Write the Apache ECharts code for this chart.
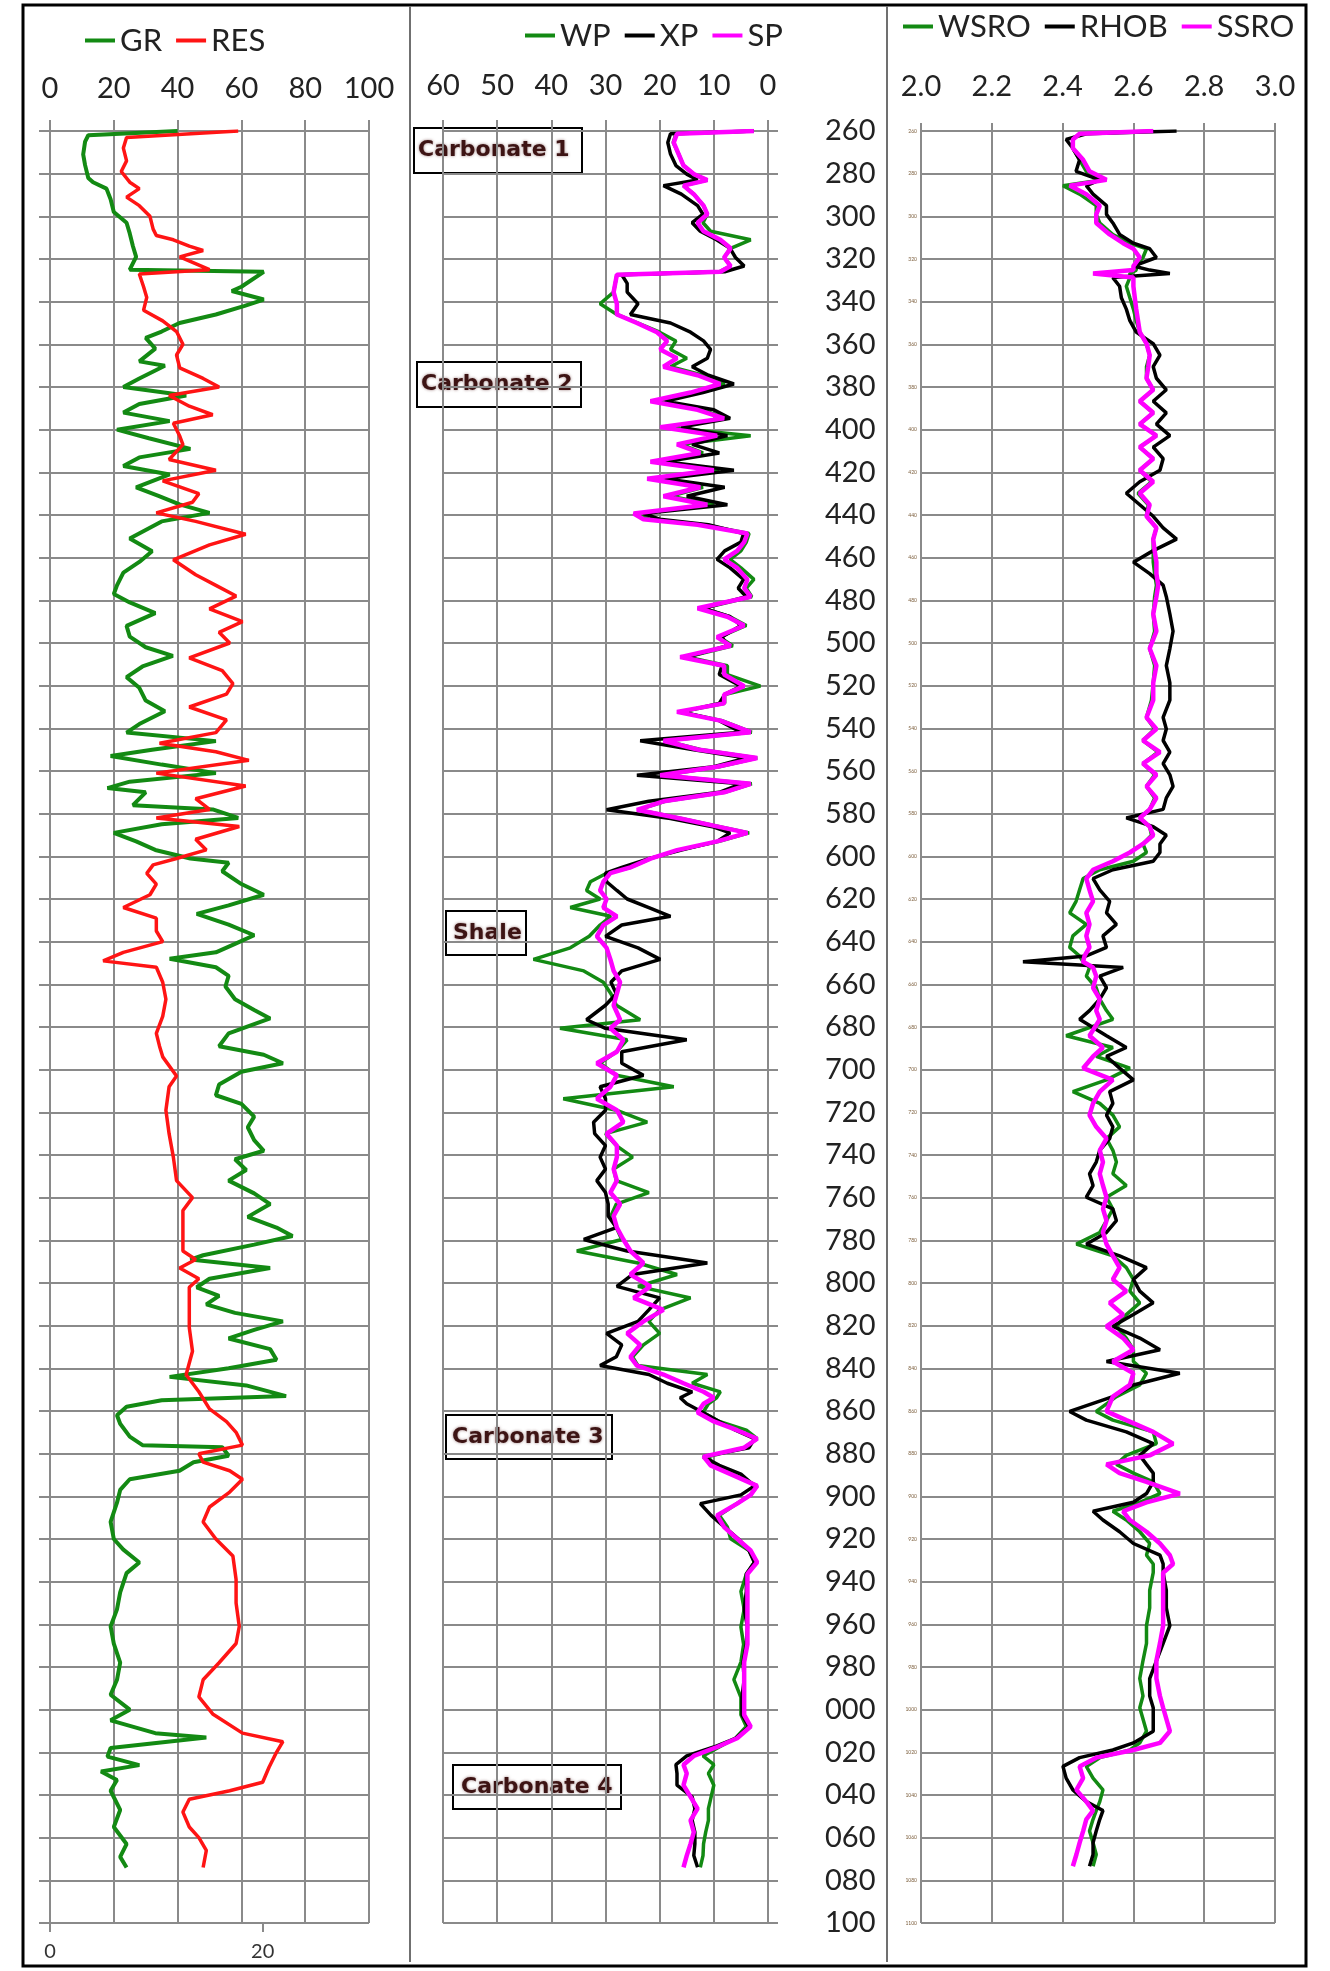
<!DOCTYPE html>
<html>
<head>
<meta charset="utf-8">
<script src="https://cdn.jsdelivr.net/npm/echarts@6/dist/echarts.min.js"></script>
<style>
html,body{margin:0;padding:0;background:#fff;}
#chart{width:1330px;height:1971px;}
</style>
</head>
<body>
<div id="chart"></div>
<script>
// ---------------- Panel 1 : GR (top axis, API) and RES (bottom axis) ----------------
const grDepth = [260,262,265,271,276,282,284,287,292,298, 303,308,314,319,325,326,333,335,339,342,
 346,350,354,357,362,368,370,376,380,384, 388,392,396,400,404,409,413,417,421,427,
 431,435,439,443,447,451,457,462,467,473, 477,481,486,492,497,502,506,511,516,521,
 527,532,538,542,546,550,553,557,561,565, 568,570,576,578,582,585,589,593,597,601,
 603,607,613,618,623,627,632,637,641,645, 648,652,656,661,667,672,676,
 683,689,693,697,701,707,712,716,722,727, 733,738,742,747,752,758,763,769,774,778,
 782,787,789,793,798,802,806,810,814,818, 822,826,831,836,840,844,848,853,855,858,
 862,866,872,876,877,881,884,888,892,897, 903,912,920,925,931,936,945,953,961,969,
 978,986,993,1000,1005,1011,1013,1018,1022,1026, 1029,1033,1038,1047,1055,1063,1069,1074];
const grValue = [40,12,11,10.4,11,12,13.5,17.7,19,20, 24,25,26,27,25,67,60,57,67,61,
 52,40.6,35,30,33,28,36,28,23,42.7, 28,23,37.5,21,31,44,28,23,37.5,27,
 34,40.6,50,35,30,25,32,28,23,21, 20,25,33,24,25,30,38.5,29,24,28,
 30,36,28,24,52,32,19,35,52,25, 18,30,26,51,59,35,20,27,33,44,
 56,54,60,67,56,46,56,64,58,52, 37.5,52,56,55,58,64,69,
 56,53,67,73,60,53,52,60,64,62, 64,67,58,61.5,56,64,69,62,71,76,
 64,48,44,69,50,46,53,49,58,73, 64,56,69,71,56,37.5,61.5,74,35,24,
 21,22,25,29,54,56,45,40.6,25,22, 21,19,20,23,28,24,22,21,19,20,
 22,21,19,25,19,33,49,19,18,28, 16,21,19,22,20,24,22,24];

const resDepth = [260,263,268,274,279,284,287,291,295,300, 306,309,311,314,316,319,325,327,333,338,
 344,349,354,360,365,371,376,380,384,389, 393,397,403,407,414,419,424,430,434,439,
 443,449,454,461,468,473,478,484,490,495, 500,507,513,519,524,530,536,542,547,551,
 555,561,567,573,578,582,586,592,597,601, 604,608,613,618,624,629,635,640,645,649,
 652,659,667,675,
 683,689,694,703,708,719,730,741,752,760, 766,777,785,789,793,798,802,810,821,832,
 843,851,859,865,870,876,880,884,888,892, 898,905,912,920,928,939,950,961,969,978,
 986,994,1002,1011,1015,1020,1027,1034,1038,1042, 1048,1055,1060,1066,1074];
const resValue = [17.7,7.2,6.9,7.2,6.7,7.5,8.4,7.2,8.4,9.4, 9.7,10,11.6,13.1,14.4,12.2,15,8.4,8.8,9.1,
 8.8,10.6,11.9,12.5,11.9,12.2,14.4,15.9,11.2,13.1, 15.3,11.6,12.2,12.5,11.2,15.6,10.6,14,13.4,10,
 13.7,18.4,15,11.6,13.7,15.6,17.5,15,18.1,15.9, 16.9,13.1,16.2,17.2,16.6,13.1,16.6,15.6,10.3,15.6,
 18.7,10,18.4,13.7,15,10,17.8,13.7,14.7,11.9, 9.7,9.1,10,9.4,6.9,10,10,10.6,6.9,5,
 10,10.6,10.9,10.6,
 10,10.3,10.6,11.9,11.2,10.9,11.2,11.6,11.9,13.4, 12.5,12.5,12.5,13.7,12.2,14,13.1,13.1,13.1,13.4,
 12.8,14,15,16.6,17.5,18.1,14,14.4,16.9,18.1, 16.9,15,14.4,15.6,17.2,17.5,17.5,17.8,17.5,15.9,
 14.4,14,15.3,18.1,21.9,21.3,20.6,20,16.9,13.1, 12.5,13.1,14,14.7,14.4];

// ---------------- Panel 2 : WP, XP, SP (reversed axis) ----------------
const p2Depth = [260,261.3,265.4,270.8,276.2,280.2,283,285.6,289.6,295,
 299,303,307,311,315,319.3,323.3,326,327.4,331.4,
 335.5,341,346,350,354.3,358.4,362.4,366.5,370.5,374.5,
 378.6,382.6,386.7,390.7,394.7,398.8,402.8,406.9,410.9,415,
 419,423,427,431.2,435.2,439.3,442,444.6,448.7,452.7,
 456.8,460.8,464.8,470.2,474.3,478.3,483.7,487.7,491.8,497.2,
 501.3,506.6,510.7,514.8,520.2,524.2,528.3,532.3,536.4,541.8,
 545.8,549.9,553.9,558,562,566,570,574.2,578.2,582.3,
 586.3,589,593,597.1,601.1,605.2,607.9,611.9,616,620,
 624,628.1,632.2,637.5,642.9,648.3,653.7,659,664.4,669.8,
 676.6,680.6,686,691.6,697,702.6,708,713.6,719,724.6,
 730,735.6,741,746.6,752,757.6,763,768.6,774,779.6,
 785,790.6,796,801.6,807,812.6,818,823.6,829,834.6,
 838.7,842.9,847,851,853.8,856.6,860.7,864.9,869,873,
 877.2,881.4,885.5,889.6,895.1,899.3,903.4,908.9,914.4,919.9,
 925.4,930.9,936.4,944.6,952.9,961.2,969.4,977.7,985.9,994.2,
 1002.4,1007.9,1013.4,1017.5,1021.7,1025.8,1029.9,1035.4,1040.9,1046.4,
 1051.9,1057.4,1062.9,1068.4,1073.9];
const wpValue = [2.6,17,17.5,16.5,15.6,13.7,11.2,15.6,13.7,11.9,
 11.2,12,10.6,3.2,6.9,8.1,6.9,9,27.9,28.2,
 28.5,31,27.9,24,20,17,18,15,18,12,
 8,13,20,12,8,19,3.2,16,12,20,
 9,21,12,18,10,24,22,12,3.5,4,
 5,7,5,2.6,4,3,12,7,4,9,
 6.5,15,7.5,7.5,1.4,8,8,16,8.5,3,
 19,12.5,2,9,19.5,3,8,19,24,16,
 8.5,3.5,9,16.5,21.7,25.4,29.8,32.8,33.5,31,
 36.5,29,31,33,36.5,43.3,34,30.4,29,28,
 23.6,38.4,26,28,31,28,17.4,37.8,28,22.3,
 30,28,25,28.5,28,22,28,29,28,27,
 35.3,24,16.8,24,14.3,20,22,20,23,25,
 24,11.2,14,8.8,9.5,11,12,9,4,2,
 4.4,11,10,6.5,2,3.2,5.7,9,7.5,6.9,
 3.5,2.5,4,5,4.4,5,4.5,5,6.3,5,
 5,4,6,9,12,10,11,10,10.5,11,
 11,11.5,11.9,12,12.5];
const xpValue = [2.6,18,18.5,18,17,15,13,19.3,16,13,
 12,14,12.5,9.5,7,6,4.4,8,27,26,
 26,24,25.4,18,14.3,11.9,10.6,11.2,14,11,
 6.3,12,19,10,7,16,7.5,14,9,19,
 6.3,19,8,15,7.5,23,20,11,4.5,5,
 8,9.4,7,4.5,5.5,4,12,7,5,8.5,
 7.5,15,8.5,9,5,8,9,16,9,5,
 23.6,14,4,10,24.2,5,9,22,29.8,18,
 10,7,9.4,16,22,27,30,29.8,27.9,26,
 22,18,27,30,24,19.9,27,29,28,30,
 33.5,30,15,27,27,23,31,30,30,32.2,
 32,30,31,30,31.6,30,29.5,29.5,28,34,
 26,11.2,25,27.9,20,22,24,29.8,27,28,
 31,22,18.6,14,16.2,15,12,9,6,2.5,
 3.5,12,9,5,2.5,5,12.5,10.5,8,5.5,
 3.5,2.5,4,4,4.4,3.8,4,4.6,4.4,4.8,
 4.8,3.5,6,10,15,17,16.8,16.8,14,13.5,
 14,13.5,13.5,13.7,13];
const spValue = [2.6,16.8,17.4,16.5,15.6,13.7,11.2,15.6,13.7,11.9,
 11.2,13,11.9,8.8,6.9,8.1,6.9,8.8,27.9,28.2,
 28.5,27.9,27.9,24.2,20.5,18.6,19.9,16.8,19.3,13,
 8.8,14.3,21.7,13,8.1,19.9,9.4,16.8,12.5,21.7,
 10,22.3,12.5,19.3,11.2,24.8,23,13,3.8,4.4,
 5.7,8.1,5.7,3.8,4.4,3.2,13,7.5,4.4,9.4,
 6.9,16.2,8.1,8.1,4.4,8.1,8.1,16.8,8.8,3.2,
 19.3,13,2,9.4,19.9,3.2,8.1,19.3,24.2,16.2,
 8.8,3.8,9.4,16.8,21.7,25.4,29.1,30.4,31,29.8,
 30.4,27.9,30.4,31.6,29.8,29.1,28.5,27.3,27.9,28.5,
 27.3,29.1,26.7,27.9,31.6,27.9,29.1,31.6,27.9,26.7,
 29.8,27.9,27.9,28.5,27.9,29.1,27.3,28.5,27.9,26.7,
 25.4,23,25.4,21.7,24.8,19.3,23,26,23.6,25.4,
 24.2,19.3,15.6,11.9,10,11.9,13,10,5.7,2,
 4.4,11.9,10.6,6.9,2,3.2,5.7,9.4,8.1,5.7,
 3.2,2,3.8,3.8,3.8,3.8,3.8,4.4,4.4,4.4,
 4.4,3.2,5.7,9.4,13.7,15.6,15,15.6,14.3,13,
 14.3,13.7,14.3,15,15.6];

// ---------------- Panel 3 : WSRO, RHOB, SSRO ----------------
const p3Depth = [260,261.3,264,268.1,273.5,278.9,282.9,285.6,289.6,295,
 299.1,303.1,308.5,312.6,315.2,319.3,323.3,325.2,326.8,328.7,
 332.8,338.2,343.5,348.9,354.3,359.7,365.1,370.5,375.9,381.3,
 386.7,392.1,397.4,402.8,408.2,413.6,419,424.4,429.8,435.2,
 440.6,446,451.3,456.7,462.1,467.5,472.9,478.3,486.4,494.5,
 502.6,510.6,518.7,526.8,534.9,540.3,545.7,551.1,556.5,561.8,
 567.2,572.6,578,582,586.1,590.1,594.2,598.2,602.3,606.3,
 610.4,615.7,621.1,626.5,631.9,637.3,642.7,646.7,649.4,652.1,
 656.2,661.6,666.9,672.3,676.4,
 684.1,689.6,693.8,699.3,704.8,710.3,715.8,721.3,726.8,732.3,
 737.8,743.3,748.8,754.3,759.8,765.3,770.8,776.3,781.8,787.3,
 792.8,798.3,803.8,809.3,814.8,820.3,825.8,831.3,836.8,842.3,
 847.8,853.3,860.2,864.3,869.8,875.3,880.8,885,889.1,893.2,
 898.7,902.8,907,911.1,916.6,922.1,927.6,931.7,935.8,944.1,
 952.3,960.6,968.9,977.1,985.4,993.6,999.1,1010.1,1015.6,1018.9,
 1022.5,1026.6,1032.1,1037.6,1043.1,1047.3,1051.4,1056.9,1062.4,1067.9,
 1073.4];
const wsroValue = [2.656,2.448,2.429,2.429,2.448,2.467,2.514,2.401,2.448,2.495,
 2.495,2.505,2.542,2.59,2.637,2.627,2.608,2.608,2.59,2.59,
 2.58,2.59,2.6,2.608,2.618,2.637,2.646,2.637,2.637,2.656,
 2.618,2.656,2.618,2.665,2.618,2.656,2.618,2.651,2.613,2.642,
 2.637,2.665,2.656,2.656,2.656,2.66,2.665,2.66,2.656,2.66,
 2.646,2.66,2.656,2.651,2.637,2.66,2.627,2.67,2.627,2.66,
 2.637,2.66,2.646,2.618,2.646,2.651,2.627,2.637,2.6,2.505,
 2.458,2.448,2.438,2.42,2.467,2.429,2.42,2.448,2.458,2.476,
 2.467,2.495,2.505,2.524,2.542,
 2.41,2.542,2.495,2.59,2.524,2.429,2.505,2.542,2.561,2.524,
 2.542,2.552,2.542,2.58,2.524,2.542,2.524,2.505,2.439,2.542,
 2.58,2.6,2.59,2.618,2.58,2.552,2.58,2.6,2.6,2.637,
 2.618,2.552,2.495,2.542,2.656,2.665,2.58,2.552,2.6,2.656,
 2.675,2.618,2.542,2.58,2.618,2.646,2.637,2.656,2.656,2.646,
 2.646,2.637,2.637,2.627,2.618,2.627,2.618,2.637,2.618,2.59,
 2.505,2.467,2.486,2.514,2.505,2.495,2.486,2.476,2.486,2.495,
 2.486];
const rhobValue = [2.722,2.467,2.41,2.429,2.448,2.438,2.505,2.467,2.486,2.524,
 2.524,2.542,2.561,2.6,2.646,2.665,2.6,2.646,2.703,2.542,
 2.561,2.566,2.58,2.59,2.608,2.656,2.675,2.656,2.665,2.693,
 2.656,2.693,2.665,2.703,2.656,2.684,2.675,2.618,2.58,2.618,
 2.656,2.684,2.722,2.656,2.6,2.646,2.684,2.693,2.703,2.712,
 2.703,2.693,2.703,2.703,2.684,2.693,2.684,2.703,2.684,2.703,
 2.712,2.693,2.684,2.58,2.656,2.693,2.675,2.675,2.656,2.542,
 2.486,2.505,2.533,2.524,2.552,2.514,2.524,2.467,2.288,2.571,
 2.505,2.524,2.505,2.476,2.448,
 2.524,2.58,2.524,2.561,2.6,2.533,2.542,2.524,2.542,2.533,
 2.505,2.495,2.476,2.486,2.467,2.542,2.552,2.524,2.467,2.561,
 2.637,2.6,2.618,2.656,2.6,2.542,2.618,2.675,2.524,2.731,
 2.6,2.542,2.42,2.467,2.58,2.656,2.618,2.637,2.656,2.656,
 2.637,2.6,2.486,2.514,2.561,2.6,2.675,2.684,2.684,2.693,
 2.693,2.703,2.684,2.665,2.646,2.646,2.656,2.656,2.6,2.542,
 2.448,2.401,2.41,2.429,2.467,2.514,2.505,2.495,2.486,2.486,
 2.476];
const ssroValue = [2.656,2.448,2.429,2.429,2.458,2.476,2.524,2.42,2.467,2.505,
 2.495,2.495,2.533,2.571,2.6,2.618,2.6,2.6,2.486,2.6,
 2.6,2.604,2.608,2.613,2.618,2.637,2.646,2.642,2.637,2.656,
 2.618,2.656,2.618,2.665,2.618,2.656,2.618,2.656,2.618,2.646,
 2.637,2.665,2.656,2.66,2.665,2.665,2.67,2.665,2.656,2.665,
 2.646,2.665,2.656,2.656,2.637,2.665,2.627,2.675,2.627,2.665,
 2.637,2.665,2.646,2.618,2.646,2.656,2.627,2.59,2.542,2.486,
 2.467,2.476,2.486,2.467,2.476,2.467,2.476,2.462,2.458,2.486,
 2.495,2.486,2.505,2.495,2.505,
 2.476,2.514,2.486,2.458,2.542,2.505,2.486,2.476,2.495,2.524,
 2.505,2.514,2.505,2.514,2.524,2.514,2.524,2.514,2.524,2.542,
 2.561,2.542,2.58,2.533,2.571,2.524,2.571,2.6,2.542,2.6,
 2.59,2.542,2.524,2.58,2.656,2.712,2.646,2.524,2.561,2.637,
 2.731,2.637,2.571,2.59,2.637,2.675,2.703,2.712,2.684,2.684,
 2.684,2.684,2.675,2.665,2.665,2.675,2.684,2.703,2.675,2.6,
 2.495,2.448,2.458,2.439,2.467,2.486,2.467,2.458,2.448,2.439,
 2.429];

// ---------------- labels / ticks ----------------
const legend1 = ['GR','RES'];
const legend2 = ['WP','XP','SP'];
const legend3 = ['WSRO','RHOB','SSRO'];
const resTicks = [0, 20];
const annotations = ['Carbonate 1','Carbonate 2','Shale','Carbonate 3','Carbonate 4'];

function pairs(vals, depths){
  const n = Math.min(vals.length, depths.length);
  const out = [];
  for (let i = 0; i < n; i++) out.push([vals[i], depths[i]]);
  return out;
}

const GREEN = '#138a13', RED = '#ff1414', MAG = '#ff00ff', BLK = '#000000';
const GRIDC = '#8a8a8a';
const FONT = 'Lato';
const LBL = '#222222';

const chart = echarts.init(document.getElementById('chart'), null, {renderer:'canvas'});

function yAx(grid, pos, extra){
  return Object.assign({
    type:'value', gridIndex:grid, min:260, max:1100, interval:20, inverse:true, position:pos,
    axisLine:{show:false},
    axisTick:{show:true, length:11, lineStyle:{color:GRIDC, width:2}},
    axisLabel:{show:false},
    splitLine:{show:true, lineStyle:{color:GRIDC, width:2}}
  }, extra||{});
}

function lineSeries(name, xi, yi, data, color, w){
  return {name, type:'line', xAxisIndex:xi, yAxisIndex:yi, data, showSymbol:false, symbol:'none',
    lineStyle:{color, width:w}, itemStyle:{color}, animation:false, silent:true};
}

function box(x, y, w, h, text, pad){
  return {type:'group', x, y, children:[
    {type:'rect', shape:{x:0, y:0, width:w, height:h},
     style:{fill:'#ffffff', stroke:'#000000', lineWidth:2}},
    {type:'text', x:pad, y:h/2, style:{text, fill:'#3d1414', font:'bold 22px "DejaVu Sans"',
      verticalAlign:'middle', textShadowColor:'rgba(90,40,40,0.6)', textShadowBlur:3}}
  ]};
}

const option = {
  backgroundColor:'#ffffff',
  animation:false,
  textStyle:{fontFamily:FONT},
  legend:[
    {data:legend1, left:80, top:20, itemWidth:30, itemHeight:4, itemGap:14, icon:'rect',
     textStyle:{fontFamily:FONT, fontSize:31, color:LBL}},
    {data:legend2, left:520, top:15, itemWidth:30, itemHeight:4, itemGap:14, icon:'rect',
     textStyle:{fontFamily:FONT, fontSize:31, color:LBL}},
    {data:legend3, left:898, top:6, itemWidth:30, itemHeight:4, itemGap:14, icon:'rect',
     textStyle:{fontFamily:FONT, fontSize:31, color:LBL}}
  ],
  grid:[
    {left:50, width:319, top:131, height:1792},
    {left:443, width:325, top:131, height:1792},
    {left:921, width:354, top:131, height:1792}
  ],
  xAxis:[
    {type:'value', gridIndex:0, position:'top', min:0, max:100, interval:20,
     axisLine:{show:false}, axisTick:{show:true, length:11, lineStyle:{color:GRIDC, width:2}},
     axisLabel:{fontFamily:FONT, fontSize:29, color:LBL, margin:28},
     splitLine:{show:true, lineStyle:{color:GRIDC, width:2}}},
    {type:'value', gridIndex:0, position:'bottom', min:0, max:30, interval:20,
     axisLine:{show:false},
     axisTick:{show:true, length:9, customValues:resTicks, lineStyle:{color:GRIDC, width:2}},
     axisLabel:{fontFamily:FONT, fontSize:20, color:'#333', margin:19, customValues:resTicks},
     splitLine:{show:false}},
    {type:'value', gridIndex:1, position:'top', min:0, max:60, interval:10, inverse:true,
     axisLine:{show:false}, axisTick:{show:true, length:11, lineStyle:{color:GRIDC, width:2}},
     axisLabel:{fontFamily:FONT, fontSize:29, color:LBL, margin:31},
     splitLine:{show:true, lineStyle:{color:GRIDC, width:2}}},
    {type:'value', gridIndex:2, position:'top', min:2.0, max:3.0, interval:0.2,
     axisLine:{show:false}, axisTick:{show:true, length:8, lineStyle:{color:GRIDC, width:2}},
     axisLabel:{fontFamily:FONT, fontSize:29, color:LBL, margin:30,
       formatter:(v)=>Number(v).toFixed(1)},
     splitLine:{show:true, lineStyle:{color:GRIDC, width:2}}}
  ],
  yAxis:[
    yAx(0,'left'),
    yAx(1,'right',{axisTick:{show:true, length:10, lineStyle:{color:GRIDC, width:2}},
      axisLabel:{show:true, fontFamily:FONT, fontSize:29, color:LBL, margin:57, align:'left',
        formatter:(v)=>String(v).slice(-3)}}),
    yAx(2,'left',{axisTick:{show:false},
      axisLabel:{show:true, fontSize:5, color:'#7a5c3a', margin:4, formatter:(v)=>String(v)}})
  ],
  series:[
    lineSeries('GR',0,0,pairs(grValue,grDepth),GREEN,4),
    lineSeries('RES',1,0,pairs(resValue,resDepth),RED,3.5),
    lineSeries('WP',2,1,pairs(wpValue,p2Depth),GREEN,3.5),
    lineSeries('XP',2,1,pairs(xpValue,p2Depth),BLK,3.5),
    lineSeries('SP',2,1,pairs(spValue,p2Depth),MAG,4.5),
    lineSeries('WSRO',3,2,pairs(wsroValue,p3Depth),GREEN,3.5),
    lineSeries('RHOB',3,2,pairs(rhobValue,p3Depth),BLK,3.5),
    lineSeries('SSRO',3,2,pairs(ssroValue,p3Depth),MAG,4.5)
  ],
  graphic:[
    {type:'rect', shape:{x:23, y:5, width:1283, height:1961}, style:{fill:null, stroke:'#000', lineWidth:3}, z:100},
    {type:'line', shape:{x1:410, y1:6, x2:410, y2:1962}, style:{stroke:'#707070', lineWidth:2}, z:100},
    {type:'line', shape:{x1:887, y1:6, x2:887, y2:1962}, style:{stroke:'#707070', lineWidth:2}, z:100},
    Object.assign(box(414,128,168,45,annotations[0],4),{z:50}),
    Object.assign(box(417,362,164,45,annotations[1],4),{z:50}),
    Object.assign(box(446,911,80,44,annotations[2],7),{z:50}),
    Object.assign(box(446,1415,166,44,annotations[3],6),{z:50}),
    Object.assign(box(453,1765,168,44,annotations[4],8),{z:50})
  ]
};
chart.setOption(option);
</script>
</body>
</html>
